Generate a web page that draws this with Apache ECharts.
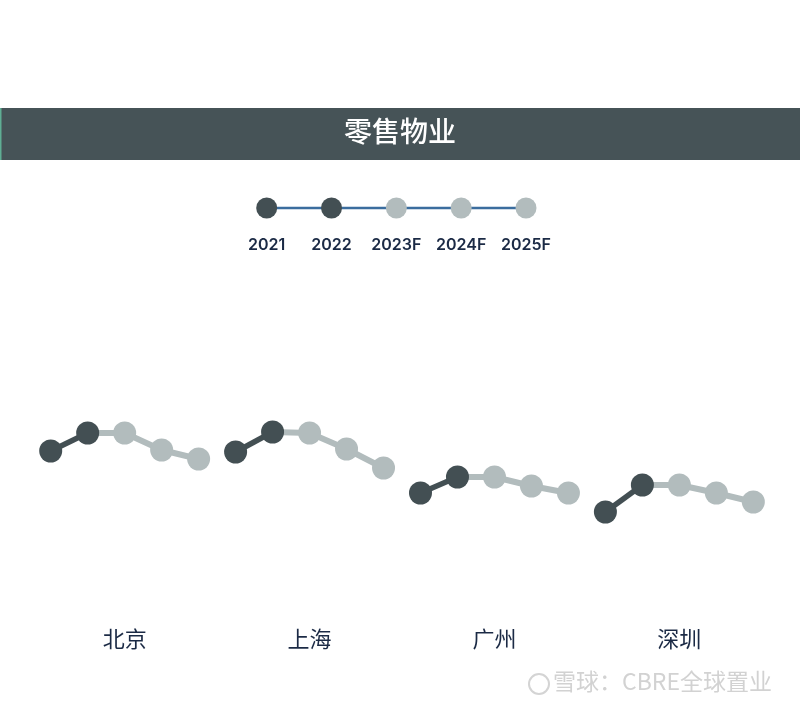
<!DOCTYPE html>
<html>
<head>
<meta charset="utf-8">
<script src="https://cdn.jsdelivr.net/npm/echarts@6/dist/echarts.min.js"></script>
<style>
html,body{margin:0;padding:0;background:#fff;}
#main{width:800px;height:709px;}
</style>
</head>
<body>
<div id="main"></div>
<script>
// ---- data ----
const chartTitle = '零售物业';
const years = ['2021', '2022', '2023F', '2024F', '2025F'];
const cities = ['北京', '上海', '广州', '深圳'];
const beijing = [7.9, 9.7, 9.7, 8.0, 7.1];
const shanghai = [7.8, 9.8, 9.7, 8.1, 6.2];
const guangzhou = [3.7, 5.3, 5.3, 4.4, 3.7];
const shenzhen = [1.8, 4.5, 4.5, 3.7, 2.8];
const actualCount = 2; // 2021, 2022 are actual; rest forecast
const watermark = '雪球：CBRE全球置业';

// ---- styles ----
const DARK = '#434f53';
const LIGHT = '#b2bcbd';
const BLUE = '#3b6d9e';
const NAVY = '#1b2a45';
const FONT = '"Noto Sans CJK SC", "Noto Sans", sans-serif';

const cityData = [beijing, shanghai, guangzhou, shenzhen];
const step = 36.98;
const firstX = 50.7;

const grids = [], xAxes = [], yAxes = [], series = [];

// legend/timeline grid (index 0)
grids.push({ left: 266.7, width: 259.3, top: 198, height: 20 });
xAxes.push({
  gridIndex: 0, type: 'category', data: years, boundaryGap: false,
  axisLine: { show: false }, axisTick: { show: false }, splitLine: { show: false },
  axisLabel: { show: true, interval: 0, margin: 19, color: NAVY, fontSize: 16, fontWeight: 600, fontFamily: 'Inter, "Noto Sans", sans-serif' }
});
yAxes.push({ gridIndex: 0, type: 'value', min: -1, max: 1, show: false });
series.push({
  type: 'line', xAxisIndex: 0, yAxisIndex: 0, silent: true,
  data: years.map((y, i) => ({ value: 0, itemStyle: { color: i < actualCount ? DARK : LIGHT } })),
  symbol: 'circle', symbolSize: 21, showSymbol: true, showAllSymbol: true,
  lineStyle: { color: BLUE, width: 2.5 },
  z: 3
});

cities.forEach((c, k) => {
  const gi = k + 1;
  const vals = cityData[k];
  grids.push({ left: firstX + k * 5 * step, width: 4 * step, top: 430, height: 100 });
  xAxes.push({
    gridIndex: gi, type: 'category', data: years, boundaryGap: false,
    axisLine: { show: false }, axisTick: { show: false }, axisLabel: { show: false }, splitLine: { show: false },
    name: c, nameLocation: 'middle', nameGap: 98,
    nameTextStyle: { color: NAVY, fontSize: 22, fontFamily: FONT }
  });
  yAxes.push({ gridIndex: gi, type: 'value', min: 0, max: 10, show: false });
  // forecast segment (light)
  series.push({
    type: 'line', xAxisIndex: gi, yAxisIndex: gi, silent: true,
    data: vals.map((v, i) => i < actualCount - 1 ? '-' : (i === actualCount - 1 ? { value: v, symbol: 'none' } : v)),
    symbol: 'circle', symbolSize: 23, showSymbol: true, showAllSymbol: true,
    itemStyle: { color: LIGHT }, lineStyle: { color: LIGHT, width: 6 },
    z: 2
  });
  // actual segment (dark)
  series.push({
    type: 'line', xAxisIndex: gi, yAxisIndex: gi, silent: true,
    data: vals.map((v, i) => i < actualCount ? v : '-'),
    symbol: 'circle', symbolSize: 23, showSymbol: true, showAllSymbol: true,
    itemStyle: { color: DARK }, lineStyle: { color: DARK, width: 5.5 },
    z: 3
  });
});

const chart = echarts.init(document.getElementById('main'), null, { renderer: 'canvas' });
chart.setOption({
  backgroundColor: '#ffffff',
  animation: false,
  grid: grids, xAxis: xAxes, yAxis: yAxes, series: series,
  graphic: [
    { type: 'rect', shape: { x: 0, y: 108, width: 800, height: 52 }, style: { fill: '#465357' }, z: 0 },
    { type: 'rect', shape: { x: 0, y: 108, width: 1.5, height: 52 }, style: { fill: '#5fae94' }, z: 1 },
    { type: 'text', left: 'center', top: 117, style: { text: chartTitle, fill: '#ffffff', font: '500 28px ' + FONT }, z: 2 },
    { type: 'circle', shape: { cx: 539, cy: 684, r: 10 }, style: { fill: 'none', stroke: '#d4d4d4', lineWidth: 2 }, z: 2 },
    { type: 'text', left: 553, top: 670, style: { text: watermark, fill: '#d2d2d2', font: '23px ' + FONT }, z: 2 }
  ]
});
</script>
</body>
</html>
